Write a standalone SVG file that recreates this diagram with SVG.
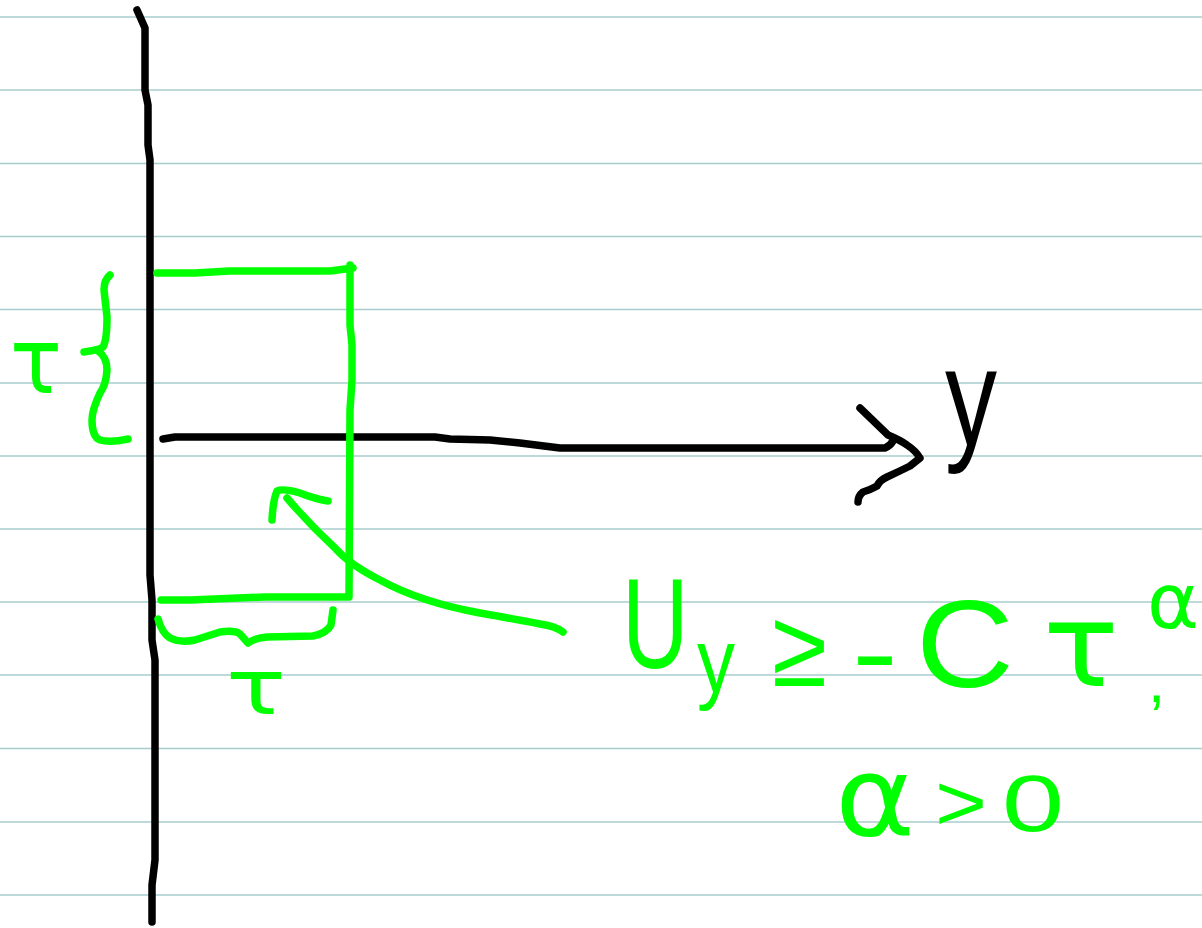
<svg xmlns="http://www.w3.org/2000/svg" width="1202" height="928" viewBox="0 0 1202 928">
<style>
.rule{stroke:#a9cccd;stroke-width:1.5}
.pk{fill:none;stroke:#000;stroke-width:7.5;stroke-linecap:round;stroke-linejoin:round}
.pg{fill:none;stroke:#00ff00;stroke-width:7.5;stroke-linecap:round;stroke-linejoin:round}
.tg{fill:#00ff00;font-family:"Liberation Sans","DejaVu Sans",sans-serif}
.gr{fill:#00ff00;font-family:"DejaVu Sans","Liberation Sans",sans-serif}
.tk{fill:#000;font-family:"Liberation Sans","DejaVu Sans",sans-serif}
</style>
<rect width="1202" height="928" fill="#fff"/>
<g id="rules">
<line class="rule" x1="0" y1="17" x2="1202" y2="17"/>
<line class="rule" x1="0" y1="90" x2="1202" y2="90"/>
<line class="rule" x1="0" y1="163.5" x2="1202" y2="163.5"/>
<line class="rule" x1="0" y1="236.5" x2="1202" y2="236.5"/>
<line class="rule" x1="0" y1="309.5" x2="1202" y2="309.5"/>
<line class="rule" x1="0" y1="383" x2="1202" y2="383"/>
<line class="rule" x1="0" y1="456" x2="1202" y2="456"/>
<line class="rule" x1="0" y1="529" x2="1202" y2="529"/>
<line class="rule" x1="0" y1="602" x2="1202" y2="602"/>
<line class="rule" x1="0" y1="675" x2="1202" y2="675"/>
<line class="rule" x1="0" y1="748.5" x2="1202" y2="748.5"/>
<line class="rule" x1="0" y1="822" x2="1202" y2="822"/>
<line class="rule" x1="0" y1="895" x2="1202" y2="895"/>
</g>
<g id="axes">
<path class="pk" d="M137,10 L145,28 L145,90 L148,105 L148,145 L150,160 L150,575 L152,600 L152,640 L155,660 L155,860 L152,885 L152,922"/>
<path class="pk" d="M163,439 L175,437 L435,437 L450,439 L490,440 L520,443 L560,448 L885,448 Q890,446 893,441"/>
<path class="pk" d="M860,408 L888,435 Q900,440 907,445 Q916,451 920,458 L910,466 Q898,472 887,477 Q880,480 877,486 Q870,490 863,492 Q858,496 858,502"/>
<text id="label-y" class="tk" x="945" y="445" font-size="140" textLength="52" lengthAdjust="spacingAndGlyphs">y</text>
</g>
<g id="box">
<path class="pg" d="M157,273 L195,273 L230,271 L330,271 L353,268"/>
<path class="pg" d="M350,265 L350,325 L352,345 L352,380 L350,410 L349,597 L265,597 L190,600 L161,600"/>
</g>
<g id="braces">
<path class="pg" d="M110,275 Q104,280 104,290 L107,317 Q107,340 103,347 Q99,350 84,352 M98,351 Q107,357 107,370 Q106,385 100,393 Q92,410 92,420 Q92,437 100,440 Q110,443 128,439"/>
<path class="pg" d="M158,619 Q162,633 170,638 Q180,643 195,640 L220,632 Q235,630 240,634 L248,643 Q255,638 267,637 L313,636 Q327,633 331,625 L333,610"/>
<text id="tau-left" class="gr" x="10" y="393" font-size="90" textLength="52" lengthAdjust="spacingAndGlyphs">τ</text>
<text id="tau-bottom" class="gr" x="226" y="714" font-size="76" textLength="60" lengthAdjust="spacingAndGlyphs">τ</text>
</g>
<g id="pointer">
<path class="pg" d="M563,632 Q555,626 540,624 Q520,620 480,613 Q420,602 380,580 Q350,565 335,548 Q310,525 287,498"/>
<path class="pg" d="M272,520 Q273,500 277,491 Q283,488 300,493 Q315,499 328,501"/>
</g>
<g id="formula">
<text class="tg" transform="translate(622,668) scale(0.72,1)" font-size="128">U</text>
<text class="tg" x="697" y="692" font-size="90" textLength="38" lengthAdjust="spacingAndGlyphs">y</text>
<text class="tg" x="772" y="686" font-size="110" textLength="55" lengthAdjust="spacingAndGlyphs">≥</text>
<text class="tg" x="852" y="690" font-size="110" textLength="46" lengthAdjust="spacingAndGlyphs">-</text>
<text class="tg" x="916" y="687" font-size="124" textLength="98" lengthAdjust="spacingAndGlyphs">C</text>
<text class="gr" x="1043" y="686" font-size="115" textLength="76" lengthAdjust="spacingAndGlyphs">τ</text>
<text class="gr" x="1147" y="628" font-size="76" textLength="52" lengthAdjust="spacingAndGlyphs">α</text>
<text class="tg" x="1148" y="702" font-size="62">,</text>
<text class="gr" x="835" y="835" font-size="110" textLength="80" lengthAdjust="spacingAndGlyphs">α</text>
<text class="tg" x="935" y="830" font-size="80" textLength="52" lengthAdjust="spacingAndGlyphs">&gt;</text>
<text class="tg" x="1002" y="831" font-size="80" textLength="62" lengthAdjust="spacingAndGlyphs">0</text>
</g>
</svg>
